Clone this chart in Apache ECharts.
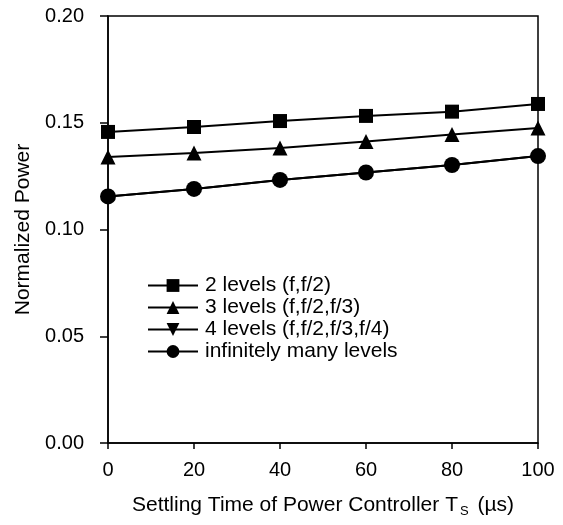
<!DOCTYPE html>
<html>
<head>
<meta charset="utf-8"/>
<title>Normalized Power</title>
<script src="https://cdn.jsdelivr.net/npm/echarts@6/dist/echarts.min.js"></script>
<style>
  body { margin: 0; background: #fff; }
  #chart { width: 563px; height: 525px; }
</style>
</head>
<body>
<div id="chart"></div>
<script type="text/javascript">
// settling time (us)
var settlingTime = [0, 20, 40, 60, 80, 100];
var seriesNames = ['2 levels (f,f/2)', '3 levels (f,f/2,f/3)', '4 levels (f,f/2,f/3,f/4)', 'infinitely many levels'];
var twoLevels = [0.1457, 0.1480, 0.1508, 0.1532, 0.1552, 0.1588];
var threeLevels = [0.1340, 0.1358, 0.1382, 0.1412, 0.1445, 0.1475];
// 4 levels lies on the infinite curve, hidden by the circles
var fourLevels = [0.1155, 0.1190, 0.1232, 0.1267, 0.1302, 0.1344];
var infLevels = [0.1155, 0.1190, 0.1232, 0.1267, 0.1302, 0.1344];
var yTicks = [0, 0.05, 0.10, 0.15, 0.20];

var chart = echarts.init(document.getElementById('chart'));
var font = 'Liberation Sans, Arial, sans-serif';

function pairs(vals) {
    return settlingTime.map(function (t, i) { return [t, vals[i]]; });
}
function mk(name, vals, symbol, size) {
    return {
        name: name,
        type: 'line',
        data: pairs(vals),
        symbol: symbol,
        symbolSize: size,
        showSymbol: true,
        lineStyle: { color: '#000', width: 2 },
        itemStyle: { color: '#000', borderWidth: 0 },
        z: 3
    };
}

var option = {
    animation: false,
    textStyle: { fontFamily: font },
    grid: {
        left: 108, right: 25, top: 16, bottom: 82,
        show: true, borderColor: '#000', borderWidth: 1.5, backgroundColor: 'transparent'
    },
    legend: {
        orient: 'vertical',
        left: 142,
        top: 270,
        itemWidth: 50,
        itemHeight: 16,
        itemGap: 1,
        data: seriesNames,
        textStyle: { fontSize: 21, color: '#000', fontFamily: font, padding: [0, 0, 0, 2] }
    },
    xAxis: {
        type: 'value',
        min: 0, max: 100, interval: 20,
        axisLine: { lineStyle: { color: '#000', width: 1.5 } },
        axisTick: { length: 6, lineStyle: { color: '#000', width: 1.5 } },
        splitLine: { show: false },
        axisLabel: { fontSize: 20, color: '#000', margin: 17, fontFamily: font },
        name: 'Settling Time of Power Controller T{s|S} (µs)',
        nameLocation: 'middle',
        nameGap: 50,
        nameTextStyle: {
            fontSize: 21, color: '#000', fontFamily: font,
            rich: { s: { fontSize: 13, verticalAlign: 'bottom', padding: [12, 3, 0, 2], color: '#000', fontFamily: font } }
        }
    },
    yAxis: {
        type: 'value',
        min: yTicks[0], max: yTicks[yTicks.length - 1], interval: 0.05,
        axisLine: { show: true, lineStyle: { color: '#000', width: 1.5 } },
        axisTick: { show: true, length: 8, lineStyle: { color: '#000', width: 1.5 } },
        splitLine: { show: false },
        axisLabel: {
            fontSize: 20, color: '#000', margin: 24, fontFamily: font,
            formatter: function (v) { return v.toFixed(2); }
        },
        name: 'Normalized Power',
        nameLocation: 'middle',
        nameGap: 72,
        nameTextStyle: { fontSize: 21, color: '#000', fontFamily: font }
    },
    series: [
        mk(seriesNames[0], twoLevels, 'rect', 14),
        mk(seriesNames[1], threeLevels, 'triangle', 15),
        mk(seriesNames[2], fourLevels, 'path://M0,0 L10,0 L5,9 Z', 10),
        mk(seriesNames[3], infLevels, 'circle', 16)
    ]
};
chart.setOption(option);
</script>
</body>
</html>
